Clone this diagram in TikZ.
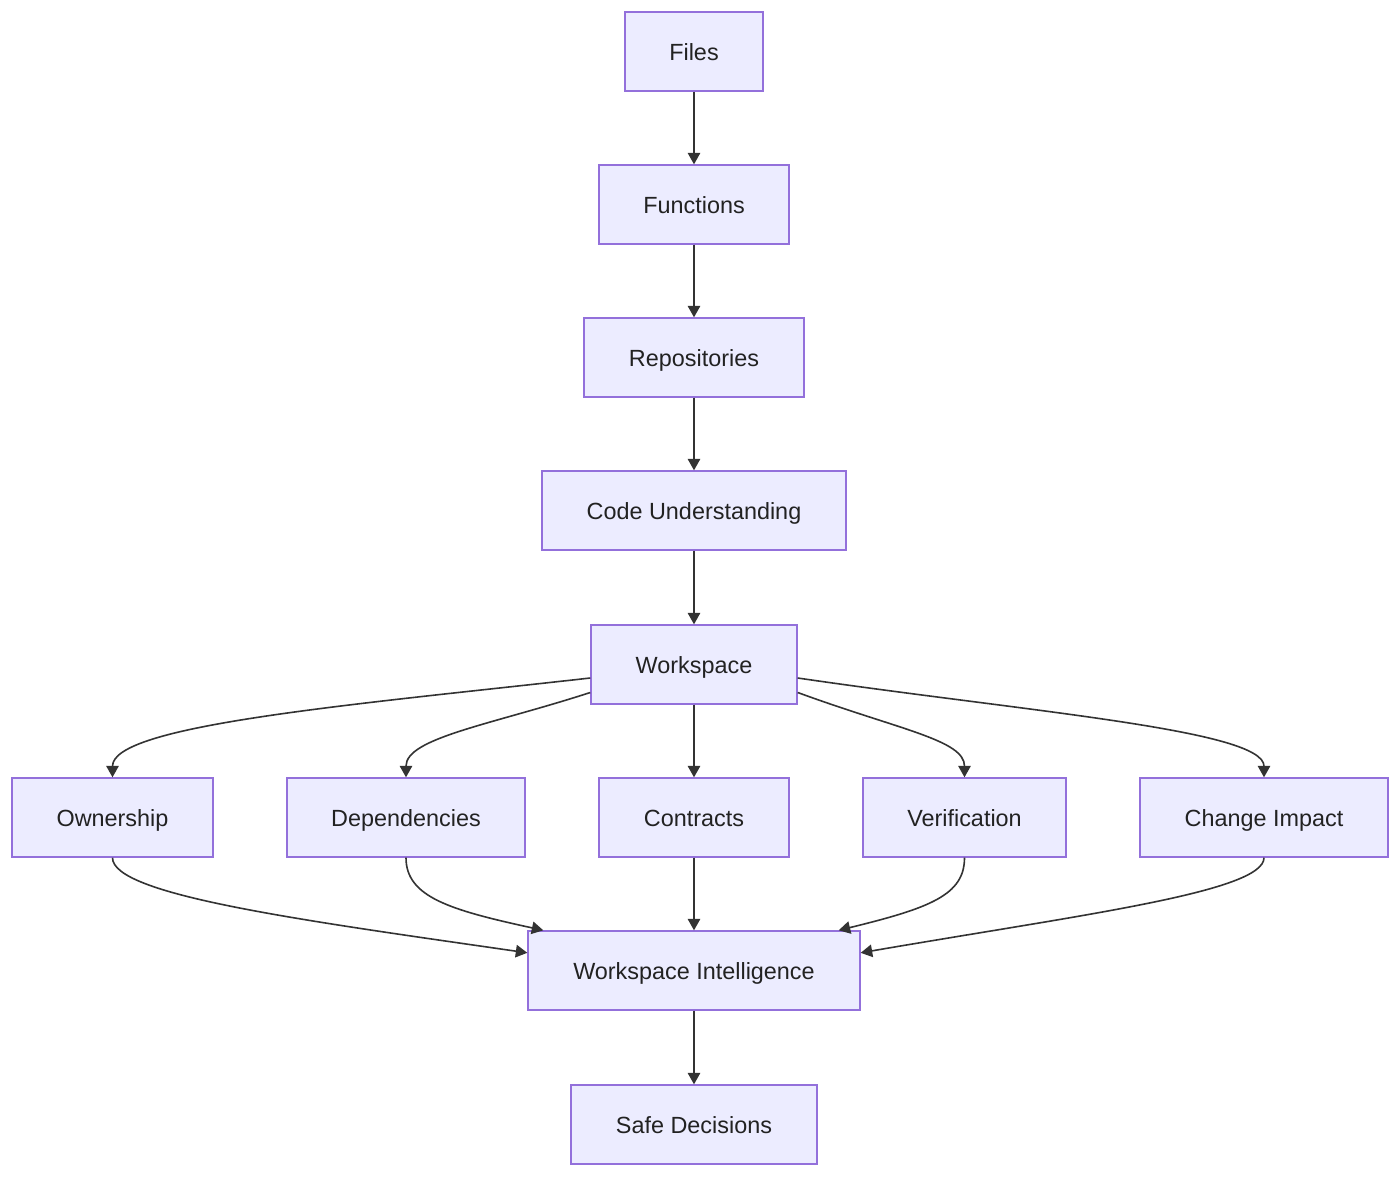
\documentclass[tikz,border=0pt]{standalone}
\usepackage{fontspec}
\setmainfont{Liberation Sans}
\usetikzlibrary{arrows.meta}
\definecolor{nodefill}{HTML}{ECECFF}
\definecolor{nodeline}{HTML}{9370DB}
\definecolor{edgecol}{HTML}{333333}
\definecolor{textcol}{HTML}{222222}
\begin{document}
\begin{tikzpicture}[x=1pt,y=-1pt,
  box/.style={draw=nodeline,fill=nodefill,line width=1.4pt,inner sep=0pt,
    minimum height=79pt,text height=20pt,text depth=3pt,text=textcol,
    font=\fontsize{23.4}{28}\selectfont},
  edge/.style={draw=edgecol,line width=1.6pt,-{Triangle[length=11.5pt,width=12.5pt]}}]
\useasboundingbox (0,0) rectangle (1400,1176);
\fill[white] (0,0) rectangle (1400,1176);

\node[box,minimum width=138pt] (files) at (694,51.5) {Files};
\node[box,minimum width=190pt] (func) at (694,204.5) {Functions};
\node[box,minimum width=220pt] (repo) at (694,357.5) {Repositories};
\node[box,minimum width=304pt] (code) at (694,510.5) {Code Understanding};
\node[box,minimum width=206pt] (ws) at (694,664.5) {Workspace};
\node[box,minimum width=201pt] (own) at (112.5,817.5) {Ownership};
\node[box,minimum width=238pt] (dep) at (406,817.5) {Dependencies};
\node[box,minimum width=190pt] (con) at (694,817.5) {Contracts};
\node[box,minimum width=203pt] (ver) at (964.5,817.5) {Verification};
\node[box,minimum width=248pt] (chg) at (1264,817.5) {Change Impact};
\node[box,minimum width=332pt] (wi) at (694,970.5) {Workspace Intelligence};
\node[box,minimum width=246pt] (safe) at (694,1124.5) {Safe Decisions};

\draw[edge] (files) -- (func);
\draw[edge] (func) -- (repo);
\draw[edge] (repo) -- (code);
\draw[edge] (code) -- (ws);

\draw[edge] ([yshift=-13.5pt]ws.west) .. controls (350,705) and (112.5,725) .. (own.north);
\draw[edge] ([yshift=-28pt]ws.west) .. controls (490,725) and (406,738) .. (dep.north);
\draw[edge] (ws) -- (con);
\draw[edge] ([yshift=-28pt]ws.east) .. controls (900,730) and (964.5,740) .. (ver.north);
\draw[edge] ([yshift=-13.5pt]ws.east) .. controls (1030,712) and (1264,730) .. (chg.north);

\draw[edge] (own.south) .. controls (112.5,895) and (300,920) .. ([yshift=-22.5pt]wi.north west);
\draw[edge] (dep.south) .. controls (406,897) and (450,910) .. ([xshift=16pt]wi.north west);
\draw[edge] (con) -- (wi);
\draw[edge] (ver.south) .. controls (964.5,895) and (930,908) .. ([xshift=-22pt]wi.north east);
\draw[edge] (chg.south) .. controls (1264,892) and (1080,915) .. ([yshift=-22.5pt]wi.north east);

\draw[edge] (wi) -- (safe);
\end{tikzpicture}
\end{document}
